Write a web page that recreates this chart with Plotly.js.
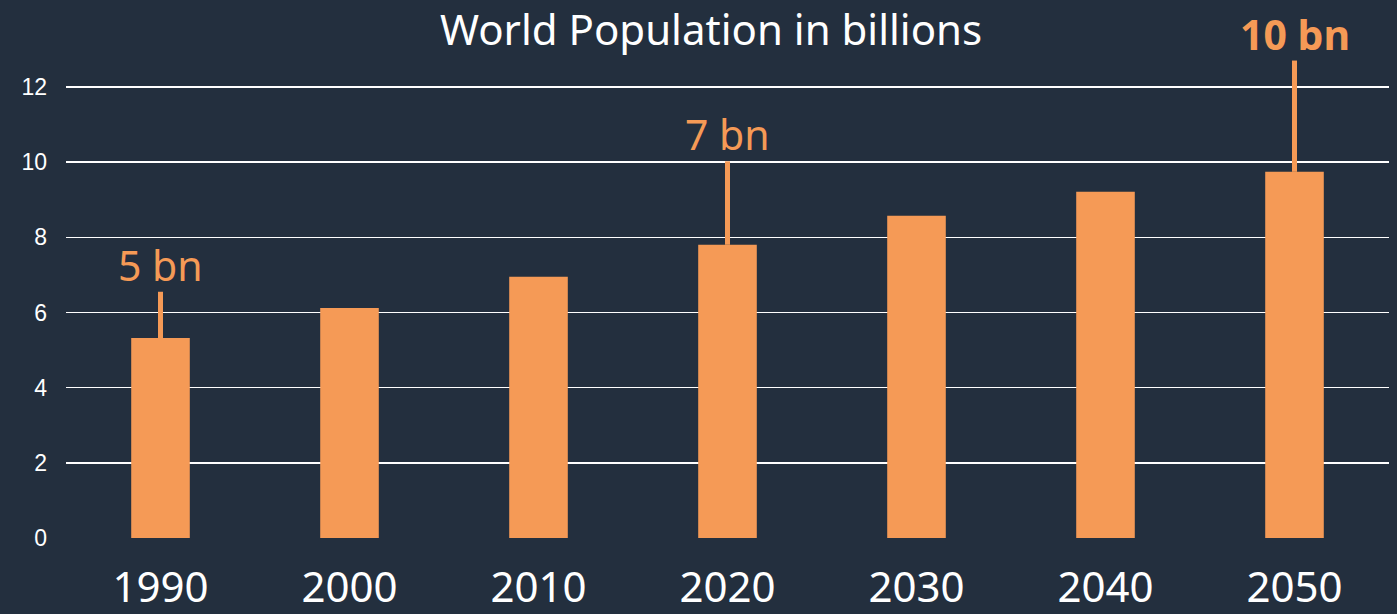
<!DOCTYPE html>
<html><head><meta charset="utf-8">
<script src="https://cdn.plot.ly/plotly-3.0.1.min.js"></script>
<style>html,body{margin:0;padding:0;background:#232F3E;}#chart{width:1397px;height:614px;}</style>
</head><body><div id="chart"></div>
<script>
const years = ['1990','2000','2010','2020','2030','2040','2050'];
const population = [5.32, 6.12, 6.95, 7.80, 8.57, 9.21, 9.74];
const calloutYears = ['1990','2020','2050'];
const calloutBase = [5.32, 7.80, 9.74];
const calloutTop = [6.55, 10.02, 12.7];
const calloutLabels = ['5 bn','7 bn','<b>10 bn</b>'];
const yTicks = [0,2,4,6,8,10,12];

const orange = '#F59A56';
const idx = c => years.indexOf(c);
const shapes = calloutYears.map((c,i)=>({type:'line',xref:'x',yref:'y',x0:idx(c),x1:idx(c),y0:calloutBase[i],y1:calloutTop[i],line:{color:orange,width:5},layer:'above'}));
const annotations = calloutYears.map((c,i)=>({x:idx(c),y:calloutTop[i],xref:'x',yref:'y',text:calloutLabels[i],showarrow:false,yanchor:'bottom',xanchor:'center',yshift:-3,font:{family:'Noto Sans, Open Sans, sans-serif',size:41,color:orange}}));

Plotly.newPlot('chart',[{type:'bar',x:years,y:population,marker:{color:orange},hoverinfo:'skip'}],{
  width:1397,height:614,
  paper_bgcolor:'#232F3E',plot_bgcolor:'#232F3E',
  margin:{l:66,r:8,t:38,b:76},
  bargap:0.69,
  showlegend:false,
  title:{text:'World Population in billions',x:0.509,xanchor:'center',y:0.95,yanchor:'middle',yref:'container',font:{family:'Noto Sans, Open Sans, sans-serif',size:42,color:'#FFFFFF'}},
  xaxis:{type:'category',range:[-0.5,6.5],autorange:false,tickfont:{family:'Noto Sans, Open Sans, sans-serif',size:42,color:'#FFFFFF'},showgrid:false,zeroline:false,showline:false,ticks:'',ticklabelstandoff:21},
  yaxis:{range:[0,13.3],autorange:false,tickvals:yTicks,ticktext:yTicks.map(String),tickfont:{family:'Liberation Sans, Arial, sans-serif',size:23,color:'#FFFFFF'},showgrid:true,gridcolor:'#FFFFFF',gridwidth:1.5,zeroline:false,showline:false,ticks:'',ticklabelstandoff:18},
  shapes:shapes,annotations:annotations
},{displayModeBar:false,staticPlot:true});
</script></body></html>
